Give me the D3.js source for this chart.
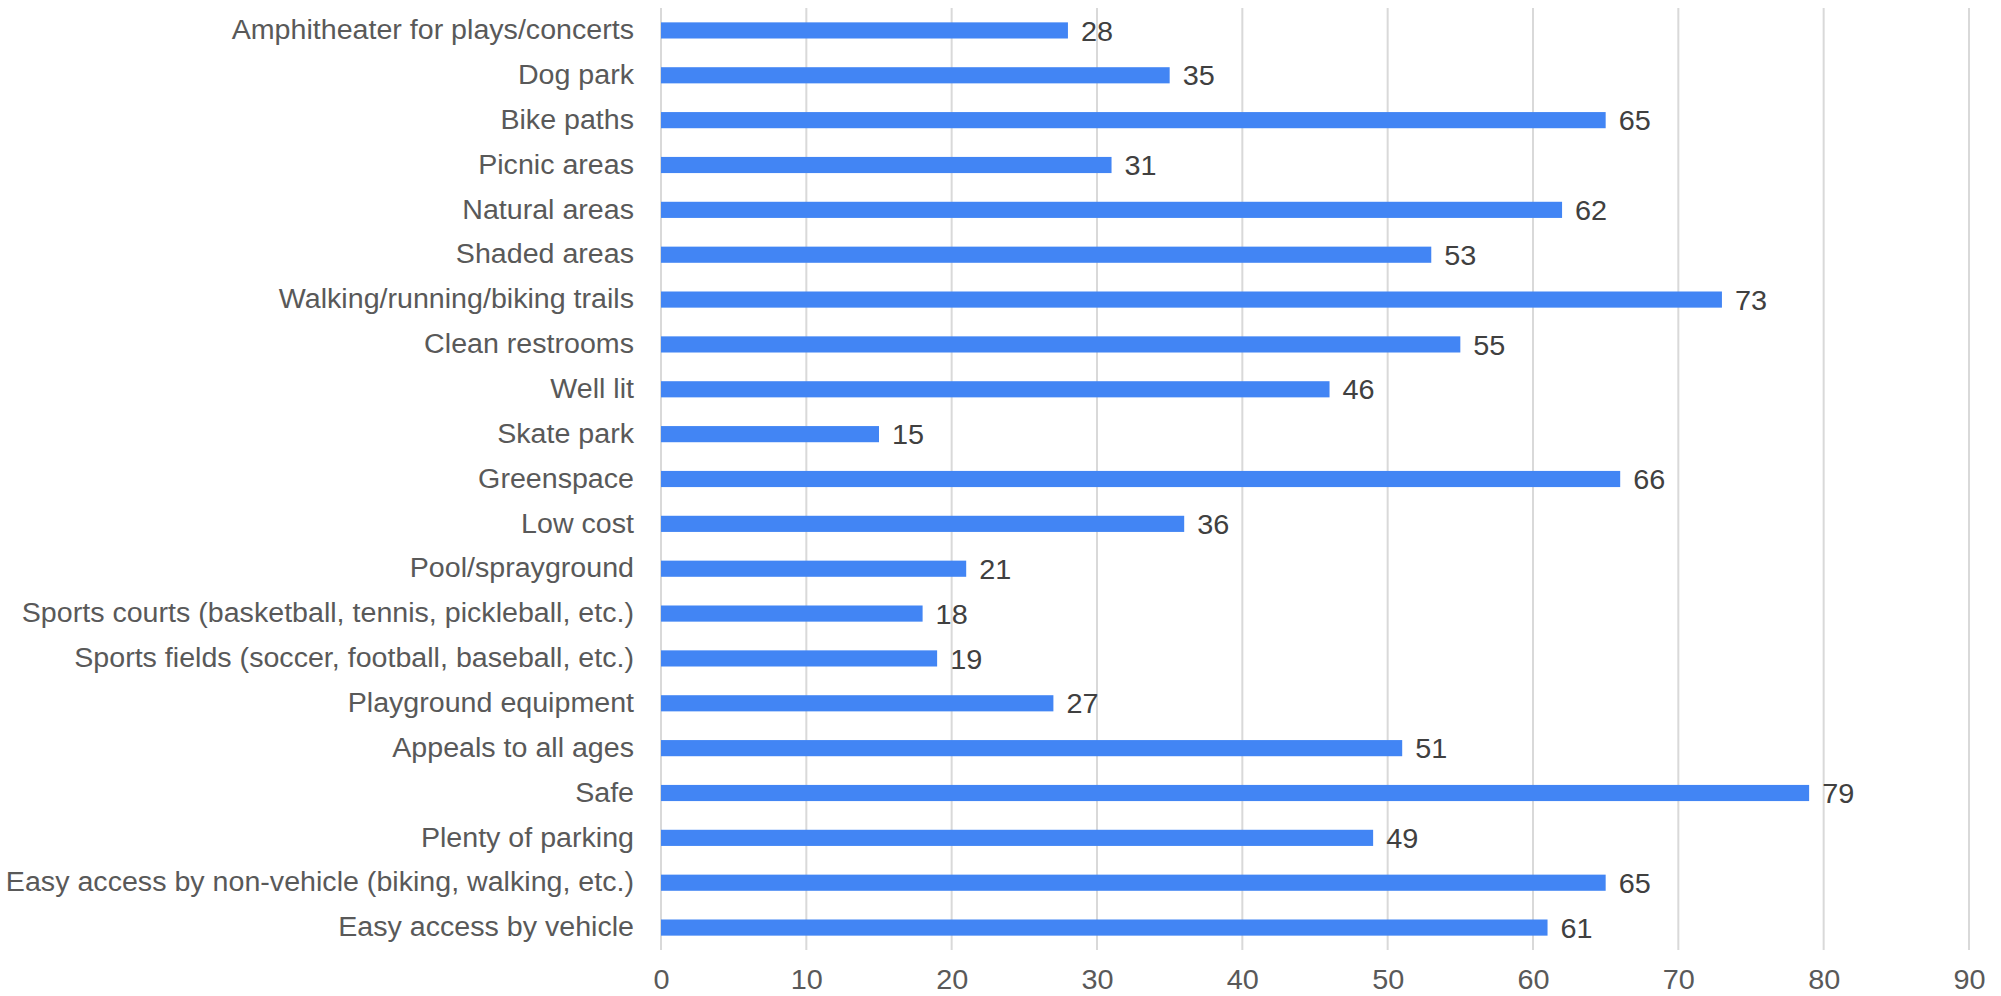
<!DOCTYPE html>
<html><head><meta charset="utf-8">
<script src="https://cdn.jsdelivr.net/npm/d3@7"></script>
<style>body{margin:0;background:#fff;}svg{display:block;}</style>
</head><body>
<script>
const categories = ["Amphitheater for plays/concerts","Dog park","Bike paths","Picnic areas","Natural areas","Shaded areas","Walking/running/biking trails","Clean restrooms","Well lit","Skate park","Greenspace","Low cost","Pool/sprayground","Sports courts (basketball, tennis, pickleball, etc.)","Sports fields (soccer, football, baseball, etc.)","Playground equipment","Appeals to all ages","Safe","Plenty of parking","Easy access by non-vehicle (biking, walking, etc.)","Easy access by vehicle"];
const values = [28,35,65,31,62,53,73,55,46,15,66,36,21,18,19,27,51,79,49,65,61];
const xTicks = [0,10,20,30,40,50,60,70,80,90];

(function(){
const W = 2001, H = 996;
const mLeft = 661, mRight = 1969, mTop = 8, mBottom = 950;
const sxCat = 1.06, sxNum = 1.03;
const svg = d3.select("body").append("svg").attr("width", W).attr("height", H);
const x = d3.scaleLinear().domain([0, 90]).range([mLeft, mRight]);
const y = d3.scaleBand().domain(categories).range([mTop, mBottom]).paddingInner(0.64).paddingOuter(0.32);
const font = "Liberation Sans, Arial, sans-serif";

// gridlines
svg.append("g").selectAll("line").data(xTicks).join("line")
  .attr("x1", d => x(d)).attr("x2", d => x(d))
  .attr("y1", mTop).attr("y2", mBottom)
  .attr("stroke", "#d9d9d9").attr("stroke-width", 2);

// x axis labels
const xAxis = d3.axisBottom(x).tickValues(xTicks).tickSize(0).tickPadding(0);
const gx = svg.append("g").attr("transform", `translate(0,${mBottom})`).call(xAxis);
gx.select(".domain").remove();
gx.selectAll("text").attr("font-family", font).attr("font-size", 28)
  .attr("fill", "#595959").attr("y", 39).attr("dy", 0)
  .attr("transform", `scale(${sxNum},1)`);

// y axis labels
const yAxis = d3.axisLeft(y).tickSize(0).tickPadding(0);
const gy = svg.append("g").attr("transform", `translate(634,0)`).call(yAxis);
gy.select(".domain").remove();
gy.selectAll("text").attr("font-family", font).attr("font-size", 27)
  .attr("fill", "#595959").attr("x", 0)
  .attr("transform", `scale(${sxCat},1)`);

// bars
svg.append("g").selectAll("rect").data(values).join("rect")
  .attr("x", x(0)).attr("y", (d, i) => y(categories[i]))
  .attr("width", d => x(d) - x(0)).attr("height", y.bandwidth())
  .attr("fill", "#4285f4");

// value labels
svg.append("g").selectAll("g").data(values).join("g")
  .attr("transform", (d, i) => `translate(${x(d) + 13},${y(categories[i]) + y.bandwidth() / 2}) scale(${sxNum},1)`)
  .append("text")
  .attr("dy", "0.36em")
  .attr("font-family", font).attr("font-size", 28)
  .attr("fill", "#404040").text(d => d);
})();
</script>
</body></html>
